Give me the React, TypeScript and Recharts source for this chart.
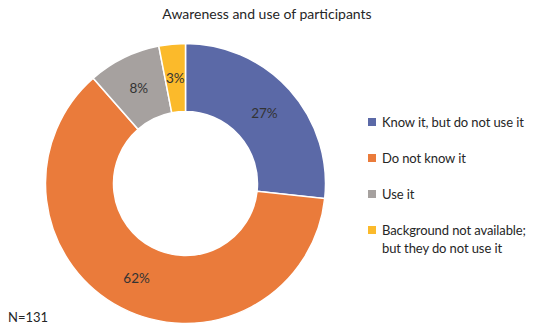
import { Cell, Pie, PieChart } from "recharts";

const CATEGORIES = [
  "Know it, but do not use it",
  "Do not know it",
  "Use it",
  "Background not available; but they do not use it",
];
const COUNTS = [35, 81, 11, 4];
const COLORS = ["#5B69A7", "#EA7B3B", "#A6A19F", "#FBBA2B"];
const TOTAL_N = 131;

const FONT = "Lato, 'Open Sans', sans-serif";
const RAD = Math.PI / 180;

const data = CATEGORIES.map((name, i) => ({ name, value: COUNTS[i] }));

function SliceLabel(props: any) {
  const { cx, cy, innerRadius, outerRadius, midAngle, percent } = props;
  const r = (innerRadius + outerRadius) / 2;
  const x = cx + r * Math.cos(-midAngle * RAD);
  const y = cy + r * Math.sin(-midAngle * RAD);
  return (
    <text x={x} y={y} textAnchor="middle" dominantBaseline="central" fontSize={13.5} fill="#333" fontFamily={FONT}>
      {Math.round(percent * 100)}%
    </text>
  );
}

// legend drawn as plain html next to the donut; long names break after the semicolon
function LegendList() {
  return (
    <div style={{ position: "absolute", left: 368, top: 113, width: 166, fontFamily: FONT, fontSize: 13, color: "#262626" }}>
      {data.map((d, i) => {
        const lines = d.name.split("; ");
        return (
          <div key={d.name} style={{ display: "flex", alignItems: "flex-start", marginBottom: 18, lineHeight: "18px" }}>
            <span style={{ width: 8, height: 8, background: COLORS[i], marginTop: 5, marginRight: 6, flex: "none" }} />
            <span style={{ whiteSpace: "nowrap", letterSpacing: -0.1 }}>
              {lines.map((l, j) => (
                <div key={j}>{j < lines.length - 1 ? l + ";" : l}</div>
              ))}
            </span>
          </div>
        );
      })}
    </div>
  );
}

export default function App() {
  return (
    <div style={{ position: "relative", width: 534, height: 332, margin: -8, background: "#fff" }}>
      <div style={{ position: "absolute", left: 0, top: 5, width: 534, textAlign: "center", fontFamily: FONT, fontSize: 14, color: "#262626" }}>
        Awareness and use of participants
      </div>
      <PieChart width={534} height={332} margin={{ top: 0, right: 0, bottom: 0, left: 0 }}>
        <Pie
          data={data}
          dataKey="value"
          nameKey="name"
          cx={185.5}
          cy={183.5}
          innerRadius={72}
          outerRadius={140}
          startAngle={90}
          endAngle={-270}
          stroke="#fff"
          strokeWidth={1.5}
          label={SliceLabel}
          labelLine={false}
          isAnimationActive={false}
        >
          {data.map((d, i) => (
            <Cell key={d.name} fill={COLORS[i]} />
          ))}
        </Pie>
      </PieChart>
      <LegendList />
      <div style={{ position: "absolute", left: 8, top: 309, fontFamily: FONT, fontSize: 13, color: "#262626", lineHeight: "16px" }}>
        N={TOTAL_N}
      </div>
    </div>
  );
}
